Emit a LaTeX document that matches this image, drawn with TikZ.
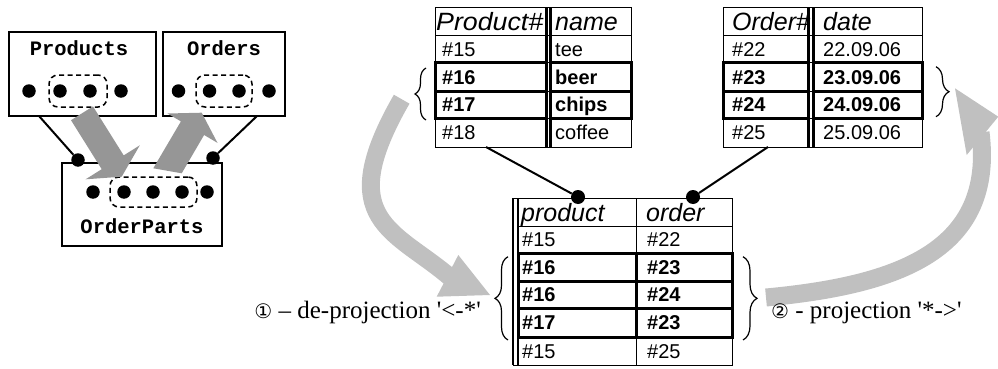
\documentclass[tikz,border=0pt]{standalone}
\usepackage{fontspec}
\usepackage{graphicx}
\setmainfont{Liberation Serif}
\newfontfamily\arialf{Liberation Sans}
\newfontfamily\courf{Liberation Mono}
\newfontfamily\symf{DejaVu Sans}
\newfontfamily\labelf{Liberation Serif}[Ligatures=TeXOff]
\usetikzlibrary{decorations.pathreplacing}
\definecolor{darkarrow}{RGB}{150,150,150}
\definecolor{lightarrow}{RGB}{192,192,192}
\begin{document}
\begin{tikzpicture}[x=1pt,y=-1pt,
  gridline/.style={line width=1pt},
  boldcell/.style={line width=3pt},
  dblline/.style={line width=2.5pt},
  dot/.style={circle,fill=black,inner sep=0pt,minimum size=13.5pt},
  cell/.style={anchor=base west,inner sep=0pt,font=\arialf\fontsize{20}{24}\selectfont},
  bcell/.style={anchor=base west,inner sep=0pt,font=\arialf\bfseries\fontsize{20}{24}\selectfont},
  hcell/.style={anchor=base west,inner sep=0pt,font=\arialf\itshape\fontsize{25}{28}\selectfont},
  ent/.style={draw,line width=1.6pt,inner sep=0pt},
  enttext/.style={font=\courf\bfseries\fontsize{20.5}{24}\selectfont,inner sep=0pt},
  grp/.style={draw,line width=1.5pt,rounded corners=9pt,dash pattern=on 5pt off 3.5pt},
  conn/.style={line width=2pt},
  bracestyle/.style={decorate,line width=1.2pt},
  bigarrow/.style={line width=18pt,draw=lightarrow},
  lbl/.style={font=\labelf\fontsize{25}{28}\selectfont,inner sep=0pt}
]
\useasboundingbox (0,0) rectangle (998,369);

% ---------- big curved light-gray arrows ----------
\draw[bigarrow] (401.7,99.2) .. controls (331.7,220.8) and (395,229.8) .. (451,278);
\fill[lightarrow] (458.3,255) -- (490,295) -- (436.7,296.7) -- cycle;
\draw[bigarrow] (766,297.5) .. controls (900,285) and (995,250) .. (980.5,132.3);
\fill[lightarrow] (955,88.3) -- (998.3,116.7) -- (966.7,155) -- cycle;

% ---------- table Product ----------
\draw[gridline] (435,8) rectangle (631,147);
\foreach \yy in {36,63,91,118} \draw[gridline] (435,\yy) -- (631,\yy);
\draw[dblline] (546.3,8) -- (546.3,147);
\draw[dblline] (550.3,8) -- (550.3,147);
\foreach \ya/\yb in {63/91,91/118}{
  \draw[boldcell] (435,\ya) rectangle (546.3,\yb);
  \draw[boldcell] (550.3,\ya) rectangle (631,\yb);
}
\node[hcell] (ph1) at (436,31) {\scalebox{1.07}[1]{Product\#}};
\node[hcell] (ph2) at (555,31) {name};
\node[cell]  (p11) at (442,56.7) {\#15};
\node[cell]  (p12) at (555,56.7) {tee};
\node[bcell] (p21) at (442,84.2) {\#16};
\node[bcell] (p22) at (555,84.2) {beer};
\node[bcell] (p31) at (442,111.7) {\#17};
\node[bcell] (p32) at (555,111.7) {chips};
\node[cell]  (p41) at (442,139.7) {\#18};
\node[cell]  (p42) at (555,139.7) {coffee};

% ---------- table Order ----------
\draw[gridline] (723.3,8) rectangle (922.7,147);
\foreach \yy in {36,63,91,118} \draw[gridline] (723.3,\yy) -- (922.7,\yy);
\draw[dblline] (808.7,8) -- (808.7,147);
\draw[dblline] (813.7,8) -- (813.7,147);
\foreach \ya/\yb in {63/91,91/118}{
  \draw[boldcell] (723.3,\ya) rectangle (808.7,\yb);
  \draw[boldcell] (813.7,\ya) rectangle (922.7,\yb);
}
\node[hcell] (oh1) at (732,31) {Order\#};
\node[hcell] (oh2) at (823,31) {date};
\node[cell]  (o11) at (732,56.7) {\#22};
\node[cell]  (o12) at (823,56.7) {22.09.06};
\node[bcell] (o21) at (732,84.2) {\#23};
\node[bcell] (o22) at (823,84.2) {23.09.06};
\node[bcell] (o31) at (732,111.7) {\#24};
\node[bcell] (o32) at (823,111.7) {24.09.06};
\node[cell]  (o41) at (732,139.7) {\#25};
\node[cell]  (o42) at (823,139.7) {25.09.06};

% ---------- table OrderParts ----------
\draw[gridline] (513,198) -- (732,198) -- (732,365) -- (513,365);
\foreach \yy in {226,253,281,308,337} \draw[gridline] (518,\yy) -- (732,\yy);
\draw[gridline] (636.7,198) -- (636.7,365);
\draw[line width=2.7pt] (513,198) -- (513,365);
\draw[line width=2pt] (517.8,198) -- (517.8,365);
\foreach \ya/\yb in {253/281,281/308,308/337}{
  \draw[boldcell] (518,\ya) rectangle (636.7,\yb);
  \draw[boldcell] (636.7,\ya) rectangle (732,\yb);
}
\node[hcell] (rh1) at (521,221) {product};
\node[hcell] (rh2) at (646,221) {order};
\node[cell]  (r11) at (522,246.7) {\#15};
\node[cell]  (r12) at (647,246.7) {\#22};
\node[bcell] (r21) at (522,274.2) {\#16};
\node[bcell] (r22) at (647,274.2) {\#23};
\node[bcell] (r31) at (522,301.7) {\#16};
\node[bcell] (r32) at (647,301.7) {\#24};
\node[bcell] (r41) at (522,329.7) {\#17};
\node[bcell] (r42) at (647,329.7) {\#23};
\node[cell]  (r51) at (522,358.2) {\#15};
\node[cell]  (r52) at (647,358.2) {\#25};

% ---------- braces ----------
\coordinate (b1a) at (426,120); \coordinate (b1b) at (426,68);
\draw[bracestyle,decoration={brace,amplitude=11pt}] (b1a) -- (b1b);
\coordinate (b2a) at (936,66.7); \coordinate (b2b) at (936,116.7);
\draw[bracestyle,decoration={brace,amplitude=13pt}] (b2a) -- (b2b);
\coordinate (b3a) at (508,340); \coordinate (b3b) at (508,256.7);
\draw[bracestyle,decoration={brace,amplitude=13pt}] (b3a) -- (b3b);
\coordinate (b4a) at (743,256.7); \coordinate (b4b) at (743,340);
\draw[bracestyle,decoration={brace,amplitude=14pt}] (b4a) -- (b4b);

% ---------- table connectors ----------
\coordinate (t1bot) at (486,147);
\coordinate (t2bot) at (768,147);
\node[dot,minimum size=14pt] (dp) at (578,197) {};
\node[dot,minimum size=14pt] (do) at (693,197) {};
\draw[conn] (t1bot) -- (dp);
\draw[conn] (t2bot) -- (do);

% ---------- left ER diagram ----------
\node[ent,minimum width=147pt,minimum height=84pt] (products) at (82.5,74) {};
\node[ent,minimum width=122pt,minimum height=84pt] (orders) at (224,74) {};
\node[ent,minimum width=160pt,minimum height=83pt] (orderparts) at (142,204.5) {};
\node[enttext] (productsT) at (79,48.5) {Products};
\node[enttext] (ordersT) at (224,48.5) {Orders};
\node[enttext] (orderpartsT) at (142,226) {OrderParts};

\node[grp,minimum width=58pt,minimum height=32pt] (pg) at (78,91) {};
\node[grp,minimum width=56pt,minimum height=32pt] (og) at (224,91) {};
\node[grp,minimum width=87pt,minimum height=30pt] (opg) at (153.5,192) {};

\foreach \xx [count=\i] in {29,60,90,121} \node[dot] (pd\i) at (\xx,91) {};
\foreach \xx [count=\i] in {178.5,209.5,239,269} \node[dot] (od\i) at (\xx,91) {};
\foreach \xx [count=\i] in {93,124,153,182,207} \node[dot] (opd\i) at (\xx,192) {};

\coordinate (pconn) at (39,116);
\coordinate (oconn) at (257,116);
\node[dot] (c1) at (78,160) {};
\node[dot] (c2) at (213,158) {};
\draw[conn] (pconn) -- (c1);
\draw[conn] (oconn) -- (c2);

% dark gray block arrows
\fill[darkarrow] (71,120.2) -- (93,106.4) -- (123.7,155.4) -- (139.8,145.3)
  -- (121.7,176.7) -- (85.6,179.3) -- (101.7,169.2) -- cycle;
\fill[darkarrow] (153.3,168.3) -- (180.9,121.4) -- (167.5,113.5) -- (201.7,112.7)
  -- (217.5,142.9) -- (204.1,135) -- (181.7,173.3) -- cycle;

% ---------- labels ----------
\node[lbl,anchor=base east] (lab1) at (481,318) {{\symf\fontsize{20}{24}\selectfont ①} – de-projection '<-*'};
\node[lbl,anchor=base west] (lab2) at (771,318) {{\symf\fontsize{20}{24}\selectfont ②} - projection '*->'};
\end{tikzpicture}
\end{document}
